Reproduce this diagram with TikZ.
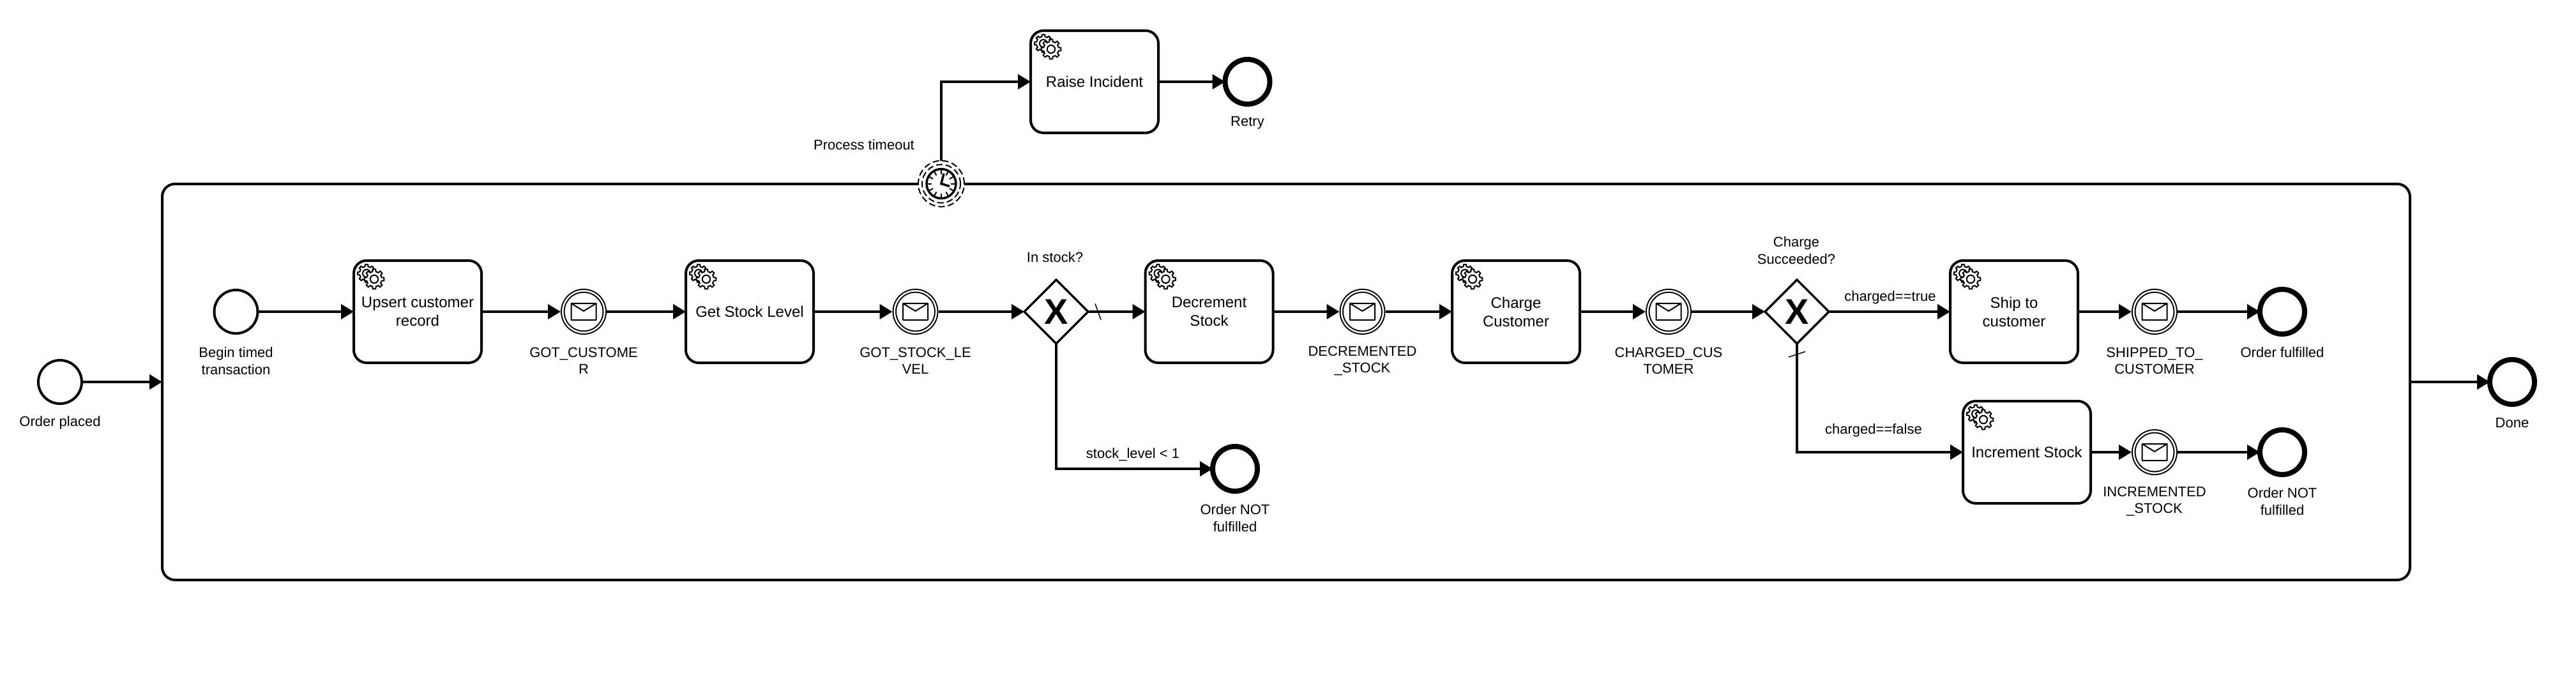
\documentclass[tikz,border=0pt]{standalone}
\usepackage{fontspec}
\setmainfont{Liberation Sans}
\usepackage{tikz}
\usetikzlibrary{positioning, calc}
\usetikzlibrary{arrows.meta}
\usetikzlibrary{shapes.geometric}

\tikzset{
	gears/.pic={
		\draw[line width=.02cm,fill=white,shift={(.20,-.20)}] (-13:.11) \foreach \a in {0,45,...,315} {-- (\a-13:.11) -- (\a-8:.14) -- (\a+8:.14) -- (\a+13:.11)} -- cycle (0,0) circle (.06);
		\draw[line width=.02cm,fill=white,shift={(.32,-.29)}] (-13:.12) \foreach \a in {0,45,...,315} {-- (\a-13:.12) -- (\a-8:.155) -- (\a+8:.155) -- (\a+13:.12)} -- cycle (0,0) circle (.062);
	},
	envelope/.pic={
		\draw[line width=.02cm,line join=round] (-.195,-.13) rectangle (.195,.13) (-.195,.13) -- (0,.01) -- (.195,.13);
	},
	clockface/.pic={
		\draw[line width=.035cm] (0,0) circle (.23);
		\foreach \a in {0,30,...,330} \draw[line width=.02cm] (\a:.15) -- (\a:.23);
		\draw[line width=.035cm] (.04,.16) -- (0,0) -- (.13,-.04);
	}
}

\begin{document}
\begin{tikzpicture}[draw=black!100]
	\def \rowraise{9.56cm}
	\def \rowoneht{5.96cm}
	\def \rowmid{4.86cm}
	\def \rowtwoht{3.76cm}
	\def \rownotful{3.50cm}
	\tikzstyle{seq}=[line width=.04cm,-{Triangle[length=.2cm,width=.23cm]}]
	\tikzstyle{flag}=[line width=.015cm]
	\tikzstyle{sub-node}=[draw,fill=white,rectangle,rounded corners=.2cm,line width=.04cm,outer sep=0pt,minimum width=35.2cm,minimum height=6.2cm]
	\tikzstyle{t-node}=[draw,fill=white,rectangle,rounded corners=.2cm,line width=.04cm,outer sep=0pt,minimum width=2cm,minimum height=1.6cm,inner sep=0pt,align=center,font=\fontsize{6.83}{8.25}\selectfont]
	\tikzstyle{s-node}=[draw,fill=white,circle,line width=.04cm,outer sep=0pt,inner sep=0pt,minimum size=.68cm]
	\tikzstyle{e-node}=[draw,fill=white,circle,line width=.08cm,outer sep=0pt,inner sep=0pt,minimum size=.70cm]
	\tikzstyle{m-node}=[draw,circle,double,fill=white,line width=.02cm,double distance=.025cm,outer sep=.0325cm,inner sep=0pt,minimum size=.655cm]
	\tikzstyle{g-node}=[draw,fill=white,diamond,aspect=1,line width=.035cm,outer sep=0pt,inner sep=0pt,minimum width=1cm,minimum height=1cm,font=\fontsize{15.9}{16}\selectfont\bfseries]
	\tikzstyle{b-node}=[draw,fill=white,circle,dashed,dash pattern=on .1cm off .05cm,line width=.02cm,outer sep=0pt,inner sep=0pt]
	\tikzstyle{annot}=[align=center,inner sep=0pt,font=\fontsize{6.26}{7.5}\selectfont]

	\useasboundingbox (0cm,0cm) rectangle (40.34cm,10.84cm);

	% sub process
	\node[sub-node] 	(sub)	at (20.14cm,\rowmid)	{};

	% outer events
	\node[s-node] 	(s0)	at (0.94cm,\rowmid)		{};
	\node[e-node] 	(e0)	at (39.34cm,\rowmid)	{};
	\node[e-node] 	(e1)	at (19.535cm,\rowraise)	{};
	\node[t-node] 	(t0)	at (17.14cm,\rowraise)	{Raise Incident};

	% boundary timer
	\node[b-node,minimum size=.72cm] 	(b0)	at (14.74cm,7.964cm)	{};
	\node[b-node,minimum size=.60cm] 	(b1)	at (14.74cm,7.964cm)	{};
	\pic at (b0) {clockface};

	% upper row
	\node[s-node] 	(s1)	at (3.695cm,\rowoneht)	{};
	\node[t-node] 	(t1)	at (6.54cm,\rowoneht)	{Upsert customer\\record};
	\node[m-node] 	(m1)	at (9.14cm,\rowoneht)	{};
	\node[t-node] 	(t2)	at (11.74cm,\rowoneht)	{Get Stock Level};
	\node[m-node] 	(m2)	at (14.335cm,\rowoneht)	{};
	\node[g-node] 	(g1)	at (16.54cm,\rowoneht)	{X};
	\node[t-node] 	(t3)	at (18.935cm,\rowoneht)	{Decrement\\Stock};
	\node[m-node] 	(m3)	at (21.335cm,\rowoneht)	{};
	\node[t-node] 	(t4)	at (23.74cm,\rowoneht)	{Charge\\Customer};
	\node[m-node] 	(m4)	at (26.13cm,\rowoneht)	{};
	\node[g-node] 	(g2)	at (28.14cm,\rowoneht)	{X};
	\node[t-node] 	(t5)	at (31.54cm,\rowoneht)	{Ship to\\customer};
	\node[m-node] 	(m5)	at (33.74cm,\rowoneht)	{};
	\node[e-node] 	(e2)	at (35.74cm,\rowoneht)	{};

	% lower row
	\node[e-node] 	(e3)	at (19.34cm,\rownotful)	{};
	\node[t-node] 	(t6)	at (31.74cm,\rowtwoht)	{Increment Stock};
	\node[m-node] 	(m6)	at (33.74cm,\rowtwoht)	{};
	\node[e-node] 	(e4)	at (35.74cm,\rowtwoht)	{};

	% icons
	\pic at (t0.north west) {gears};
	\pic at (t1.north west) {gears};
	\pic at (t2.north west) {gears};
	\pic at (t3.north west) {gears};
	\pic at (t4.north west) {gears};
	\pic at (t5.north west) {gears};
	\pic at (t6.north west) {gears};
	\pic at (m1) {envelope};
	\pic at (m2) {envelope};
	\pic at (m3) {envelope};
	\pic at (m4) {envelope};
	\pic at (m5) {envelope};
	\pic at (m6) {envelope};

	% labels
	\node[annot] 	(ls0)	at (0.94cm,4.22cm)		{Order placed};
	\node[annot] 	(ls1)	at (3.695cm,5.19cm)		{Begin timed\\transaction};
	\node[annot] 	(lm1)	at (9.14cm,5.19cm)		{GOT\_CUSTOME\\R};
	\node[annot] 	(lm2)	at (14.335cm,5.19cm)	{GOT\_STOCK\_LE\\VEL};
	\node[annot] 	(lm3)	at (21.335cm,5.19cm)	{DECREMENTED\\\_STOCK};
	\node[annot] 	(lm4)	at (26.13cm,5.19cm)		{CHARGED\_CUS\\TOMER};
	\node[annot] 	(lm5)	at (33.74cm,5.19cm)		{SHIPPED\_TO\_\\CUSTOMER};
	\node[annot] 	(lm6)	at (33.74cm,2.99cm)		{INCREMENTED\\\_STOCK};
	\node[annot] 	(le0)	at (39.34cm,4.22cm)		{Done};
	\node[annot] 	(le1)	at (19.535cm,8.92cm)	{Retry};
	\node[annot] 	(le2)	at (35.74cm,5.32cm)		{Order fulfilled};
	\node[annot] 	(le3)	at (19.34cm,2.73cm)		{Order NOT\\fulfilled};
	\node[annot] 	(le4)	at (35.74cm,2.99cm)		{Order NOT\\fulfilled};
	\node[annot] 	(lb0)	at (13.53cm,8.57cm)		{Process timeout};
	\node[annot] 	(lg1)	at (16.52cm,6.81cm)		{In stock?};
	\node[annot] 	(lg2)	at (28.13cm,6.92cm)		{Charge\\Succeeded?};
	\node[annot] 	(lf1)	at (17.74cm,3.72cm)		{stock\_level < 1};
	\node[annot] 	(lf2)	at (29.60cm,6.18cm)		{charged==true};
	\node[annot] 	(lf3)	at (29.34cm,4.10cm)		{charged==false};

	\path[seq]
		(s0)	edge	(sub.west)
		(s1)	edge	(t1)
		(t1)	edge	(m1)
		(m1)	edge	(t2)
		(t2)	edge	(m2)
		(m2)	edge	(g1)
		(g1)	edge	(t3)
		(t3)	edge	(m3)
		(m3)	edge	(t4)
		(t4)	edge	(m4)
		(m4)	edge	(g2)
		(g2)	edge	(t5)
		(t5)	edge	(m5)
		(m5)	edge	(e2)
		(t6)	edge	(m6)
		(m6)	edge	(e4)
		(t0)	edge	(e1)
		(sub.east)	edge	(e0);
	\draw[seq] (b0.north) |- (t0);
	\draw[seq] (g1.south) |- (e3);
	\draw[seq] (g2.south) |- (t6);

	% default flow marks
	\draw[flag] ([shift={(.11cm,.125cm)}]g1.east) -- ([shift={(.20cm,-.125cm)}]g1.east);
	\draw[flag] ([shift={(-.13cm,-.21cm)}]g2.south) -- ([shift={(.13cm,-.125cm)}]g2.south);
\end{tikzpicture}
\end{document}
